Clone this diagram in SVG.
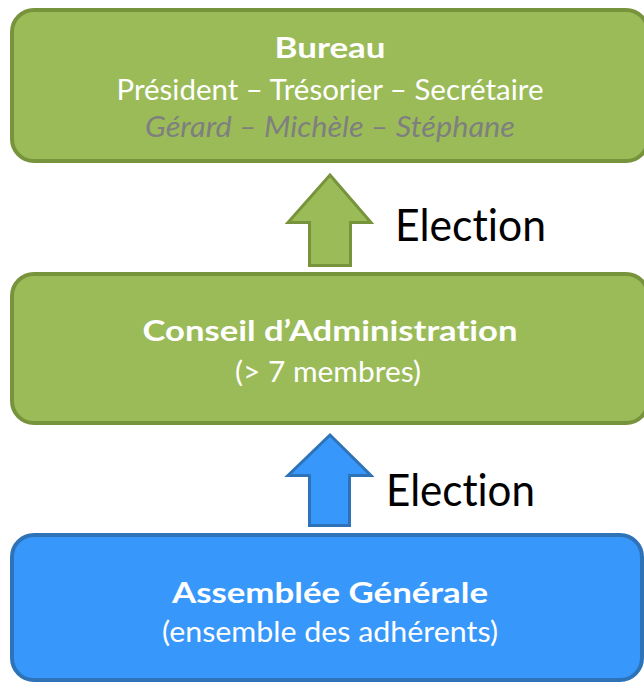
<svg xmlns="http://www.w3.org/2000/svg" width="644" height="683" viewBox="0 0 644 683">
<style>
text{font-variant-ligatures:none;font-feature-settings:"liga" 0,"clig" 0,"dlig" 0}
.t{font-family:Lato,"Open Sans","Liberation Sans",sans-serif;text-anchor:middle;fill:#ffffff;font-size:29px}
.b{font-weight:bold}
.g{fill:#7f7f7f;font-style:italic}
.green{fill:#9bbb59;stroke:#77933c;stroke-width:4}
.blue{fill:#3797fa;stroke:#2e72b8;stroke-width:4}
.garrow{fill:#9bbb59;stroke:#77933c;stroke-width:3;stroke-linejoin:miter}
.barrow{fill:#3797fa;stroke:#2e72b8;stroke-width:3;stroke-linejoin:miter}
.lbl{font-family:Lato,"Open Sans","Liberation Sans",sans-serif;font-size:44px;fill:#000000}
</style>
<rect width="644" height="683" fill="#ffffff"/>
<g id="bureau">
<rect class="green" x="12" y="10" width="636" height="151" rx="22" ry="22"/>
<text class="t b" x="330" y="58" font-size="28" textLength="111" lengthAdjust="spacingAndGlyphs">Bureau</text>
<text class="t" x="330" y="100" textLength="427" lengthAdjust="spacingAndGlyphs">Président – Trésorier – Secrétaire</text>
<text class="t g" x="330" y="137" textLength="370" lengthAdjust="spacingAndGlyphs">Gérard – Michèle – Stéphane</text>
</g>
<g id="conseil">
<rect class="green" x="12" y="274" width="636" height="149" rx="22" ry="22"/>
<text class="t b" x="330" y="341" font-size="32" textLength="375" lengthAdjust="spacingAndGlyphs">Conseil d’Administration</text>
<text class="t" x="328" y="382" textLength="186" lengthAdjust="spacingAndGlyphs">(&gt; 7 membres)</text>
</g>
<g id="assemblee">
<rect class="blue" x="12" y="535" width="630" height="145" rx="22" ry="22"/>
<text class="t b" x="330" y="603" font-size="30" textLength="316" lengthAdjust="spacingAndGlyphs">Assemblée Générale</text>
<text class="t" x="330" y="642" textLength="336" lengthAdjust="spacingAndGlyphs">(ensemble des adhérents)</text>
</g>
<g id="connectors">
<polygon class="garrow" points="330,175 371,222.5 350.5,222.5 350.5,265.5 309.5,265.5 309.5,222.5 288,222.5"/>
<text class="lbl" x="395" y="241" textLength="151" lengthAdjust="spacingAndGlyphs">Election</text>
<polygon class="barrow" points="330,435 371,475.5 349.5,475.5 349.5,525.5 309.5,525.5 309.5,475.5 288,475.5"/>
<text class="lbl" x="386" y="506" textLength="149" lengthAdjust="spacingAndGlyphs">Election</text>
</g>
</svg>
